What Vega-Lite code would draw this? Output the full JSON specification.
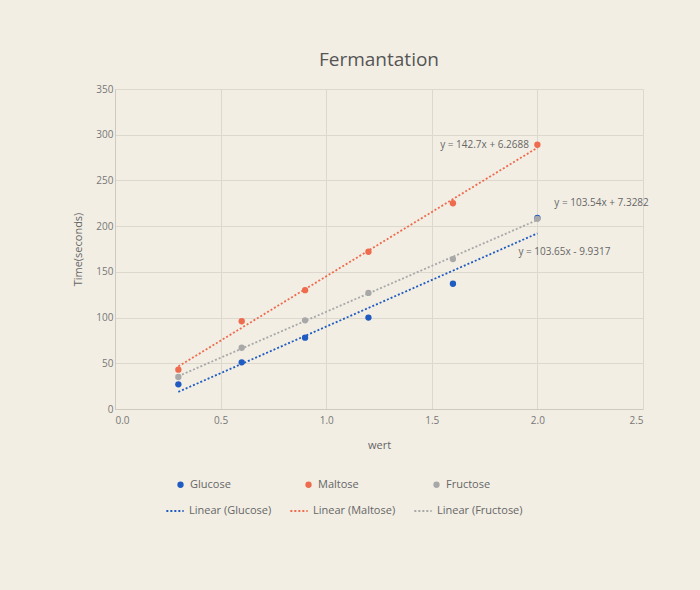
{
  "$schema": "https://vega.github.io/schema/vega-lite/v6.json",
  "width": 528,
  "height": 320,
  "background": "#f2eee4",
  "padding": {"left": 72, "top": 51, "right": 51, "bottom": 75},
  "title": {"text": "Fermantation", "fontSize": 19, "font": "Open Sans", "fontWeight": "normal", "color": "#555555", "offset": 14},
  "config": {
    "view": {"stroke": null},
    "axis": {"labelFont": "Open Sans", "labelColor": "#777777", "titleFont": "Open Sans", "titleColor": "#666666", "titleFontWeight": "normal", "labelFontSize": 10, "titleFontSize": 11, "gridColor": "#dcd8ce", "domainColor": "#cfcac0", "ticks": false},
    "legend": {"labelFont": "Open Sans", "labelColor": "#666666", "labelFontSize": 11, "title": null}
  },
  "datasets": {
    "pts": [
      {"sugar": "Glucose", "trend": "Linear (Glucose)", "wert": 0.3, "time": 27},
      {"sugar": "Glucose", "trend": "Linear (Glucose)", "wert": 0.6, "time": 51},
      {"sugar": "Glucose", "trend": "Linear (Glucose)", "wert": 0.9, "time": 78},
      {"sugar": "Glucose", "trend": "Linear (Glucose)", "wert": 1.2, "time": 100},
      {"sugar": "Glucose", "trend": "Linear (Glucose)", "wert": 1.6, "time": 137},
      {"sugar": "Glucose", "trend": "Linear (Glucose)", "wert": 2.0, "time": 209},
      {"sugar": "Maltose", "trend": "Linear (Maltose)", "wert": 0.3, "time": 43},
      {"sugar": "Maltose", "trend": "Linear (Maltose)", "wert": 0.6, "time": 96},
      {"sugar": "Maltose", "trend": "Linear (Maltose)", "wert": 0.9, "time": 130},
      {"sugar": "Maltose", "trend": "Linear (Maltose)", "wert": 1.2, "time": 172},
      {"sugar": "Maltose", "trend": "Linear (Maltose)", "wert": 1.6, "time": 225},
      {"sugar": "Maltose", "trend": "Linear (Maltose)", "wert": 2.0, "time": 289},
      {"sugar": "Fructose", "trend": "Linear (Fructose)", "wert": 0.3, "time": 35},
      {"sugar": "Fructose", "trend": "Linear (Fructose)", "wert": 0.6, "time": 67},
      {"sugar": "Fructose", "trend": "Linear (Fructose)", "wert": 0.9, "time": 97},
      {"sugar": "Fructose", "trend": "Linear (Fructose)", "wert": 1.2, "time": 127},
      {"sugar": "Fructose", "trend": "Linear (Fructose)", "wert": 1.6, "time": 164},
      {"sugar": "Fructose", "trend": "Linear (Fructose)", "wert": 2.0, "time": 208}
    ],
    "eqsR": [
      {"label": "y = 142.7x + 6.2688", "wert": 1.96, "time": 289}
    ],
    "eqsL": [
      {"label": "y = 103.54x + 7.3282", "wert": 2.08, "time": 225},
      {"label": "y = 103.65x - 9.9317", "wert": 1.91, "time": 172}
    ]
  },
  "encoding": {
    "x": {"field": "wert", "type": "quantitative", "title": "wert", "scale": {"domain": [0, 2.5]}, "axis": {"values": [0, 0.5, 1, 1.5, 2, 2.5], "format": ".1f", "labelPadding": 6, "titlePadding": 14}},
    "y": {"field": "time", "type": "quantitative", "title": "Time(seconds)", "scale": {"domain": [0, 350]}, "axis": {"values": [0, 50, 100, 150, 200, 250, 300, 350], "titlePadding": 12}}
  },
  "layer": [
    {
      "data": {"name": "pts"},
      "transform": [{"regression": "time", "on": "wert", "groupby": ["trend"], "extent": [0.3, 2.0]}],
      "mark": {"type": "line", "strokeDash": [2, 2], "strokeWidth": 1.8},
      "encoding": {
        "color": {"field": "trend", "type": "nominal", "scale": {"domain": ["Linear (Glucose)", "Linear (Maltose)", "Linear (Fructose)"], "range": ["#1f5bc0", "#ee6b4d", "#a8a8a8"]},
          "legend": {"orient": "none", "legendX": 50, "legendY": 412, "direction": "horizontal", "symbolType": "stroke", "symbolStrokeWidth": 2, "symbolDash": [2, 2], "symbolSize": 300, "columnPadding": 14}}
      }
    },
    {
      "data": {"name": "pts"},
      "mark": {"type": "circle", "size": 40, "opacity": 1},
      "encoding": {
        "fill": {"field": "sugar", "type": "nominal", "scale": {"domain": ["Glucose", "Maltose", "Fructose"], "range": ["#1f5bc0", "#ee6b4d", "#a8a8a8"]},
          "legend": {"orient": "none", "legendX": 60, "legendY": 390, "direction": "horizontal", "symbolType": "circle", "symbolSize": 40, "columnPadding": 72, "symbolOffset": 0}}
      }
    },
    {
      "data": {"name": "eqsR"},
      "mark": {"type": "text", "fontSize": 10, "font": "Open Sans", "color": "#666666", "align": "right"},
      "encoding": {"text": {"field": "label"}}
    },
    {
      "data": {"name": "eqsL"},
      "mark": {"type": "text", "fontSize": 10, "font": "Open Sans", "color": "#666666", "align": "left"},
      "encoding": {"text": {"field": "label"}}
    }
  ]
}
